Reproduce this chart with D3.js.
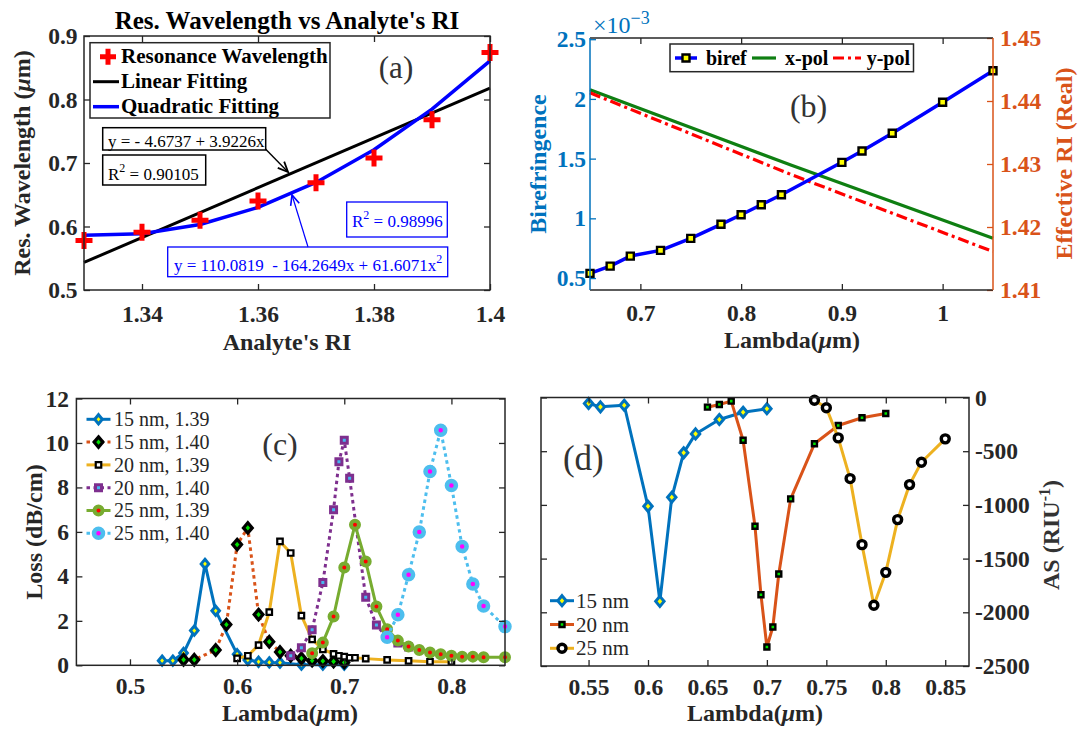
<!DOCTYPE html>
<html>
<head>
<meta charset="utf-8">
<script src="https://cdn.jsdelivr.net/npm/d3@7/dist/d3.min.js"></script>
<style>
html,body{margin:0;padding:0;background:#fff;}
svg{display:block;}
text{font-family:"Liberation Serif","Times New Roman",Times,serif;}
</style>
</head>
<body>
<svg id="fig" width="1080" height="729" xmlns="http://www.w3.org/2000/svg"></svg>
<script>
// ================= DATA =================
// Panel (a)
const riValues        = [1.33, 1.34, 1.35, 1.36, 1.37, 1.38, 1.39, 1.40];
const resWavelength   = [0.578, 0.591, 0.610, 0.640, 0.669, 0.708, 0.768, 0.874];
const quadFitValues   = [0.5864, 0.5886, 0.6032, 0.6301, 0.6694, 0.7209, 0.7848, 0.8609];
const linFitRI        = [1.33, 1.40];
const linFitValues    = [0.5434, 0.8179];
const aXTicks = [1.34, 1.36, 1.38, 1.4];
const aYTicks = [0.5, 0.6, 0.7, 0.8, 0.9];

// Panel (b)
const birefLambda = [0.65, 0.67, 0.69, 0.72, 0.75, 0.78, 0.80, 0.82, 0.84, 0.90, 0.92, 0.95, 1.00, 1.05];
const birefE3     = [0.539, 0.600, 0.684, 0.732, 0.832, 0.950, 1.030, 1.114, 1.198, 1.469, 1.564, 1.712, 1.972, 2.236]; // x10^-3
const polLambda   = [0.65, 0.75, 0.85, 0.95, 1.05];
const xPolRI      = [1.4418, 1.4358, 1.4298, 1.4240, 1.4182];
const yPolRI      = [1.4413, 1.4348, 1.4283, 1.4222, 1.4161];
const bXTicks     = [0.7, 0.8, 0.9, 1];
const bLeftTicks  = [0.5, 1, 1.5, 2, 2.5];
const bRightTicks = [1.41, 1.42, 1.43, 1.44, 1.45];

// Panel (c)
const c15_139_L = [0.53,0.54,0.55,0.56,0.57,0.58,0.60,0.61,0.62,0.63,0.64,0.66,0.68,0.70];
const c15_139_V = [0.21,0.21,0.55,1.56,4.56,2.45,0.50,0.24,0.16,0.13,0.12,0.03,0.03,0.03];
const c15_140_L = [0.55,0.56,0.58,0.59,0.60,0.61,0.62,0.63,0.64,0.65,0.66,0.67,0.68,0.69,0.70];
const c15_140_V = [0.25,0.25,0.69,1.83,5.43,6.18,2.28,1.06,0.60,0.43,0.31,0.21,0.19,0.17,0.13];
const c20_139_L = [0.60,0.61,0.62,0.63,0.64,0.65,0.66,0.67,0.68,0.69,0.695,0.70,0.705,0.71,0.72,0.74,0.76,0.78,0.80];
const c20_139_V = [0.31,0.43,0.91,2.39,5.57,5.05,2.23,1.17,0.72,0.51,0.43,0.39,0.34,0.34,0.30,0.24,0.20,0.16,0.16];
const c20_140_L = [0.65,0.66,0.67,0.68,0.69,0.695,0.70,0.705,0.72,0.73,0.74,0.75,0.76];
const c20_140_V = [0.43,0.79,1.60,3.72,7.00,9.15,10.12,8.41,3.06,1.81,1.25,1.00,0.82];
const c25_139_L = [0.67,0.68,0.69,0.70,0.71,0.72,0.73,0.74,0.75,0.76,0.77,0.78,0.79,0.80,0.81,0.82,0.83,0.85];
const c25_139_V = [0.54,1.02,2.19,4.40,6.32,4.67,2.64,1.62,1.11,0.84,0.69,0.58,0.50,0.43,0.39,0.39,0.36,0.36];
const c25_140_L = [0.74,0.75,0.76,0.77,0.78,0.79,0.80,0.81,0.82,0.83,0.85];
const c25_140_V = [1.26,2.27,4.07,5.99,8.72,10.57,8.09,5.34,3.66,2.67,1.74];
const cLegend   = ["15 nm, 1.39", "15 nm, 1.40", "20 nm, 1.39", "20 nm, 1.40", "25 nm, 1.39", "25 nm, 1.40"];
const cXTicks = [0.5, 0.6, 0.7, 0.8];
const cYTicks = [0, 2, 4, 6, 8, 10, 12];

// Panel (d)
const d15_L = [0.55,0.56,0.58,0.60,0.61,0.62,0.63,0.64,0.66,0.68,0.70];
const d15_V = [-56,-87,-72,-1013,-1898,-929,-515,-339,-205,-137,-105];
const d20_L = [0.65,0.66,0.67,0.68,0.69,0.695,0.70,0.705,0.71,0.72,0.74,0.76,0.78,0.80];
const d20_V = [-90,-65,-34,-398,-1199,-1836,-2323,-2137,-1643,-944,-431,-261,-189,-149];
const d25_L = [0.74,0.75,0.76,0.77,0.78,0.79,0.80,0.81,0.82,0.83,0.85];
const d25_V = [-25,-96,-376,-755,-1370,-1935,-1628,-1137,-811,-603,-385];
const dLegend = ["15 nm", "20 nm", "25 nm"];
const dXTicks = [0.55, 0.6, 0.65, 0.7, 0.75, 0.8, 0.85];
const dYTicks = [0, -500, -1000, -1500, -2000, -2500];

// ================= HELPERS =================
const svg = d3.select('#fig');
const AXC = '#262626';
const TFS = 23.5;
const C_BLUE = '#0072BD', C_ORANGE = '#D95319', C_YELLOW = '#EDB120',
      C_PURPLE = '#7E2F8E', C_GREEN = '#77AC30', C_LBLUE = '#4DBEEE';
const fmt = d => String(+d.toFixed(3));

function ticks(g, scale, orient, pos, values, color, pad, show) {
  const gen = {bottom: d3.axisBottom, top: d3.axisTop, left: d3.axisLeft, right: d3.axisRight}[orient](scale)
    .tickValues(values).tickSizeInner(-6).tickSizeOuter(0).tickPadding(pad)
    .tickFormat(show ? fmt : () => '');
  const tr = (orient === 'bottom' || orient === 'top') ? `translate(0,${pos})` : `translate(${pos},0)`;
  const a = g.append('g').attr('transform', tr).call(gen);
  a.select('.domain').remove();
  a.selectAll('.tick line').attr('stroke', color).attr('stroke-width', 1.3);
  a.selectAll('.tick text').attr('fill', color)
    .style('font-size', TFS + 'px').style('font-weight', 'bold')
    .style('font-family', '"Liberation Serif","Times New Roman",serif');
  if (!show) a.selectAll('.tick text').remove();
  return a;
}
function frame(g, x, y, color) {
  const [x0, x1] = x.range(), [y0, y1] = y.range();
  g.append('rect').attr('x', x0).attr('y', y1).attr('width', x1 - x0).attr('height', y0 - y1)
    .attr('fill', 'none').attr('stroke', color || AXC).attr('stroke-width', 1.5);
}
function txt(g, x, y, o) {
  const t = g.append('text').attr('x', x).attr('y', y)
    .attr('font-size', o.size || 24).attr('font-weight', o.weight || 'normal')
    .attr('fill', o.color || '#000').attr('text-anchor', o.anchor || 'start');
  if (o.rotate) t.attr('transform', `rotate(${o.rotate},${x},${y})`);
  if (o.pre) t.style('white-space', 'pre');
  (o.parts || [[o.text]]).forEach(p => {
    const s = t.append('tspan').text(p[0]);
    if (p[1] === 'i') s.attr('font-style', 'italic');
    if (p[1] === 'sup') s.attr('font-size', p[2]).attr('dy', p[3]);
    if (p[1] === 'dy') s.attr('dy', p[2]);
  });
  return t;
}
function arrow(g, x1, y1, x2, y2, color, w) {
  g.append('line').attr('x1', x1).attr('y1', y1).attr('x2', x2).attr('y2', y2)
    .attr('stroke', color).attr('stroke-width', w);
  const ang = Math.atan2(y2 - y1, x2 - x1), L = 11, A = 0.42;
  const p1 = [x2 - L * Math.cos(ang - A), y2 - L * Math.sin(ang - A)];
  const p2 = [x2 - L * Math.cos(ang + A), y2 - L * Math.sin(ang + A)];
  g.append('path').attr('d', `M${p1}L${x2},${y2}L${p2}`).attr('fill', 'none')
    .attr('stroke', color).attr('stroke-width', w + 0.4);
}
const diamondPath = (h, w) => `M0,${-h}L${w},0L0,${h}L${-w},0Z`;
const squarePath = s => `M${-s/2},${-s/2}h${s}v${s}h${-s}Z`;
function markers(g, xs, ys, x, y, m) {
  const pts = xs.map((v, i) => [x(v), y(ys[i])]);
  pts.forEach(p => drawMarker(g, p[0], p[1], m));
}
function drawMarker(g, px, py, m) {
  if (m.type === 'circle') {
    g.append('circle').attr('cx', px).attr('cy', py).attr('r', m.r)
      .attr('fill', m.fill).attr('stroke', m.stroke).attr('stroke-width', m.sw);
  } else if (m.type === 'cross') {
    g.append('path').attr('d', `M${px - m.a},${py}H${px + m.a}M${px},${py - m.a}V${py + m.a}`)
      .attr('stroke', m.stroke).attr('stroke-width', m.sw).attr('fill', 'none');
  } else {
    const d = m.type === 'diamond' ? diamondPath(m.h, m.w) : squarePath(m.s);
    g.append('path').attr('d', d).attr('transform', `translate(${px},${py})`)
      .attr('fill', m.fill).attr('stroke', m.stroke).attr('stroke-width', m.sw)
      .attr('stroke-linejoin', 'miter');
  }
}
function series(g, xs, ys, x, y, color, width, dash) {
  const line = d3.line().x(d => x(d[0])).y(d => y(d[1]));
  const p = g.append('path').attr('d', line(xs.map((v, i) => [v, ys[i]])))
    .attr('fill', 'none').attr('stroke', color).attr('stroke-width', width)
    .attr('stroke-linejoin', 'round');
  if (dash) p.attr('stroke-dasharray', dash);
  return p;
}
const lambdaParts = [['Lambda('], ['μ', 'i'], ['m)']];

// ================= PANEL (a) =================
{
  const g = svg.append('g');
  const x = d3.scaleLinear().domain([1.33, 1.40]).range([84, 490]);
  const y = d3.scaleLinear().domain([0.5, 0.9]).range([290, 36]);
  series(g, linFitRI, linFitValues, x, y, '#000', 3);
  series(g, riValues, quadFitValues, x, y, '#0000FF', 3.5);
  markers(g, riValues, resWavelength, x, y, {type: 'cross', a: 8.5, sw: 5, stroke: '#FF0000'});
  ticks(g, x, 'bottom', 290, aXTicks, AXC, 15, true);
  ticks(g, x, 'top', 36, aXTicks, AXC, 0, false);
  ticks(g, y, 'left', 84, aYTicks, AXC, 6.5, true);
  ticks(g, y, 'right', 490, aYTicks, AXC, 0, false);
  frame(g, x, y);
  txt(g, 287, 28.5, {text: "Res. Wavelength vs Analyte's RI", size: 25, weight: 'bold', anchor: 'middle'});
  txt(g, 287, 350, {text: "Analyte's RI", size: 24, weight: 'bold', anchor: 'middle', color: '#262626'});
  txt(g, 30, 163, {parts: [['Res. Wavelength ('], ['μ', 'i'], ['m)']], size: 24, weight: 'bold', anchor: 'middle', rotate: -90, color: '#262626'});
  txt(g, 396, 78, {text: '(a)', size: 31, anchor: 'middle', color: '#333'});
  // legend
  g.append('rect').attr('x', 90).attr('y', 42.7).attr('width', 240).attr('height', 75.3)
    .attr('fill', '#fff').attr('stroke', AXC).attr('stroke-width', 1.5);
  drawMarker(g, 108, 56.7, {type: 'cross', a: 8, sw: 5, stroke: '#FF0000'});
  g.append('line').attr('x1', 93).attr('x2', 119).attr('y1', 81.7).attr('y2', 81.7).attr('stroke', '#000').attr('stroke-width', 3);
  g.append('line').attr('x1', 93).attr('x2', 119).attr('y1', 106.7).attr('y2', 106.7).attr('stroke', '#0000FF').attr('stroke-width', 3.5);
  txt(g, 121, 63.3, {text: 'Resonance Wavelength', size: 21, weight: 'bold'});
  txt(g, 121, 88.3, {text: 'Linear Fitting', size: 21, weight: 'bold'});
  txt(g, 121, 113.3, {text: 'Quadratic Fitting', size: 21, weight: 'bold'});
  // annotation boxes
  g.append('rect').attr('x', 102.7).attr('y', 127.7).attr('width', 163).attr('height', 22.3)
    .attr('fill', '#fff').attr('stroke', '#000').attr('stroke-width', 1.5);
  txt(g, 108, 146.5, {text: 'y = - 4.6737 + 3.9226x', size: 17});
  g.append('rect').attr('x', 102.7).attr('y', 155).attr('width', 103).attr('height', 30)
    .attr('fill', '#fff').attr('stroke', '#000').attr('stroke-width', 1.5);
  txt(g, 108, 180, {parts: [['R'], ['2', 'sup', 12, -8], [' = 0.90105', 'dy', 8]], size: 17, pre: true});
  arrow(g, 265.5, 149, 288, 172, '#000', 1.4);
  g.append('rect').attr('x', 346.7).attr('y', 202).attr('width', 100.6).attr('height', 35)
    .attr('fill', '#fff').attr('stroke', '#0000FF').attr('stroke-width', 1.3);
  txt(g, 352, 226.5, {parts: [['R'], ['2', 'sup', 12, -8], [' = 0.98996', 'dy', 8]], size: 17, color: '#0000FF', pre: true});
  g.append('rect').attr('x', 167.7).attr('y', 247).attr('width', 280).attr('height', 29.7)
    .attr('fill', '#fff').attr('stroke', '#0000FF').attr('stroke-width', 1.3);
  txt(g, 174, 270.5, {parts: [['y = 110.0819  - 164.2649x + 61.6071x'], ['2', 'sup', 12, -8]], size: 17, color: '#0000FF', pre: true});
  arrow(g, 308, 247, 292, 195, '#0000FF', 1.2);
}

// ================= PANEL (b) =================
{
  const g = svg.append('g');
  const x = d3.scaleLinear().domain([0.65, 1.05]).range([590, 993]);
  const yl = d3.scaleLinear().domain([0.4, 2.51]).range([290, 38]);
  const yr = d3.scaleLinear().domain([1.41, 1.45]).range([290, 38]);
  series(g, polLambda, xPolRI, x, yr, '#0F7F12', 3.2);
  series(g, polLambda, yPolRI, x, yr, '#FF0000', 3.2, '11,4,3,4');
  series(g, birefLambda, birefE3, x, yl, '#0000FF', 3.5);
  markers(g, birefLambda, birefE3, x, yl, {type: 'square', s: 7, fill: '#FFFF00', stroke: '#000', sw: 2.4});
  ticks(g, x, 'bottom', 290, bXTicks, AXC, 14.7, true);
  ticks(g, x, 'top', 38, bXTicks, AXC, 0, false);
  ticks(g, yl, 'left', 590, bLeftTicks, C_BLUE, 4, true);
  ticks(g, yr, 'right', 993, bRightTicks, C_ORANGE, 7, true);
  g.append('line').attr('x1', 590).attr('x2', 993).attr('y1', 38).attr('y2', 38).attr('stroke', AXC).attr('stroke-width', 1.5);
  g.append('line').attr('x1', 590).attr('x2', 993).attr('y1', 290).attr('y2', 290).attr('stroke', AXC).attr('stroke-width', 1.5);
  g.append('line').attr('x1', 590).attr('x2', 590).attr('y1', 38).attr('y2', 290).attr('stroke', C_BLUE).attr('stroke-width', 1.5);
  g.append('line').attr('x1', 993).attr('x2', 993).attr('y1', 38).attr('y2', 290).attr('stroke', C_ORANGE).attr('stroke-width', 1.5);
  txt(g, 593, 33, {parts: [['×10'], ['−3', 'sup', 18, -9]], size: 24, color: C_BLUE});
  txt(g, 792, 348, {parts: lambdaParts, size: 24, weight: 'bold', anchor: 'middle', color: '#262626'});
  txt(g, 546, 164, {text: 'Birefringence', size: 24, weight: 'bold', color: C_BLUE, anchor: 'middle', rotate: -90});
  txt(g, 1072, 163.5, {text: 'Effective RI (Real)', size: 24, weight: 'bold', color: C_ORANGE, anchor: 'middle', rotate: -90});
  txt(g, 808.6, 116.5, {text: '(b)', size: 32, anchor: 'middle', color: '#333'});
  // legend
  g.append('rect').attr('x', 670).attr('y', 44).attr('width', 243.5).attr('height', 27.7)
    .attr('fill', '#fff').attr('stroke', AXC).attr('stroke-width', 1.5);
  g.append('line').attr('x1', 675).attr('x2', 697).attr('y1', 58).attr('y2', 58).attr('stroke', '#0000FF').attr('stroke-width', 3.5);
  drawMarker(g, 686, 58, {type: 'square', s: 7, fill: '#FFFF00', stroke: '#000', sw: 2.4});
  g.append('line').attr('x1', 752).attr('x2', 776).attr('y1', 58).attr('y2', 58).attr('stroke', '#0F7F12').attr('stroke-width', 3.2);
  g.append('line').attr('x1', 833).attr('x2', 861).attr('y1', 58).attr('y2', 58).attr('stroke', '#FF0000').attr('stroke-width', 3.2).attr('stroke-dasharray', '11,4,3,4');
  txt(g, 706, 64.5, {text: 'biref', size: 20, weight: 'bold'});
  txt(g, 785, 64.5, {text: 'x-pol', size: 20, weight: 'bold'});
  txt(g, 866.7, 64.5, {text: 'y-pol', size: 20, weight: 'bold'});
}

// ================= PANEL (c) =================
{
  const g = svg.append('g');
  const x = d3.scaleLinear().domain([0.45, 0.85]).range([76.4, 505]);
  const y = d3.scaleLinear().domain([0, 12]).range([665.3, 398.5]);
  const S = [
    {L: c15_139_L, V: c15_139_V, color: C_BLUE, dash: null, m: {type: 'diamond', h: 4.6, w: 3.8, fill: '#FFFF00', stroke: C_BLUE, sw: 3}},
    {L: c15_140_L, V: c15_140_V, color: C_ORANGE, dash: '3.5,3.5', m: {type: 'diamond', h: 5.2, w: 4.4, fill: '#00E000', stroke: '#000', sw: 3.2}},
    {L: c20_139_L, V: c20_139_V, color: C_YELLOW, dash: null, m: {type: 'square', s: 5.5, fill: '#fff', stroke: '#000', sw: 2.2}},
    {L: c20_140_L, V: c20_140_V, color: C_PURPLE, dash: '3.5,3.5', m: {type: 'square', s: 6, fill: '#45B8F0', stroke: C_PURPLE, sw: 3}},
    {L: c25_139_L, V: c25_139_V, color: C_GREEN, dash: null, m: {type: 'circle', r: 4, fill: '#FF0000', stroke: C_GREEN, sw: 4}},
    {L: c25_140_L, V: c25_140_V, color: C_LBLUE, dash: '3.5,3.5', m: {type: 'circle', r: 4.5, fill: '#FF00FF', stroke: C_LBLUE, sw: 4.5}}
  ];
  S.forEach(s => {
    series(g, s.L, s.V, x, y, s.color, 3, s.dash);
    markers(g, s.L, s.V, x, y, s.m);
  });
  ticks(g, x, 'bottom', 665.3, cXTicks, AXC, 12.2, true);
  ticks(g, x, 'top', 398.5, cXTicks, AXC, 0, false);
  ticks(g, y, 'left', 76.4, cYTicks, AXC, 7.5, true);
  ticks(g, y, 'right', 505, cYTicks, AXC, 0, false);
  frame(g, x, y);
  txt(g, 290, 721, {parts: lambdaParts, size: 24, weight: 'bold', anchor: 'middle', color: '#262626'});
  txt(g, 42, 532, {text: 'Loss (dB/cm)', size: 24, weight: 'bold', anchor: 'middle', rotate: -90, color: '#262626'});
  txt(g, 280, 455, {text: '(c)', size: 32, anchor: 'middle', color: '#333'});
  cLegend.forEach((lab, i) => {
    const cy = 419.3 + i * 22.8, s = S[i];
    const ln = g.append('line').attr('x1', 86.5).attr('x2', 110.5).attr('y1', cy).attr('y2', cy)
      .attr('stroke', s.color).attr('stroke-width', 3);
    if (s.dash) ln.attr('stroke-dasharray', s.dash);
    drawMarker(g, 98.5, cy, s.m);
    txt(g, 114, cy + 6.8, {text: lab, size: 20, color: '#262626'});
  });
}

// ================= PANEL (d) =================
{
  const g = svg.append('g');
  const x = d3.scaleLinear().domain([0.51, 0.87]).range([541, 969]);
  const y = d3.scaleLinear().domain([-2500, 0]).range([666, 397.5]);
  const S = [
    {L: d15_L, V: d15_V, color: C_BLUE, m: {type: 'diamond', h: 5, w: 4.2, fill: '#FFFF00', stroke: C_BLUE, sw: 3}},
    {L: d20_L, V: d20_V, color: C_ORANGE, m: {type: 'square', s: 5, fill: '#00E000', stroke: '#000', sw: 2.4}},
    {L: d25_L, V: d25_V, color: C_YELLOW, m: {type: 'circle', r: 4, fill: '#fff', stroke: '#000', sw: 3.4}}
  ];
  S.forEach(s => {
    series(g, s.L, s.V, x, y, s.color, 3);
    markers(g, s.L, s.V, x, y, s.m);
  });
  ticks(g, x, 'bottom', 666, dXTicks, AXC, 12, true);
  ticks(g, x, 'top', 397.5, dXTicks, AXC, 0, false);
  ticks(g, y, 'right', 969, dYTicks, AXC, 6, true);
  ticks(g, y, 'left', 541, dYTicks, AXC, 0, false);
  frame(g, x, y);
  txt(g, 755, 721, {parts: lambdaParts, size: 24, weight: 'bold', anchor: 'middle', color: '#262626'});
  txt(g, 1059, 535, {parts: [['AS (RIU'], ['-1', 'sup', 16, -9], [')', 'dy', 9]], size: 24, weight: 'bold', anchor: 'middle', rotate: -90, color: '#333'});
  txt(g, 583.3, 470, {text: '(d)', size: 35, anchor: 'middle', color: '#333'});
  dLegend.forEach((lab, i) => {
    const cy = 600.7 + i * 23.8, s = S[i];
    g.append('line').attr('x1', 550).attr('x2', 574).attr('y1', cy).attr('y2', cy)
      .attr('stroke', s.color).attr('stroke-width', 3);
    drawMarker(g, 562, cy, s.m);
    txt(g, 576, cy + 7, {text: lab, size: 21, color: '#262626'});
  });
}
</script>
</body>
</html>
